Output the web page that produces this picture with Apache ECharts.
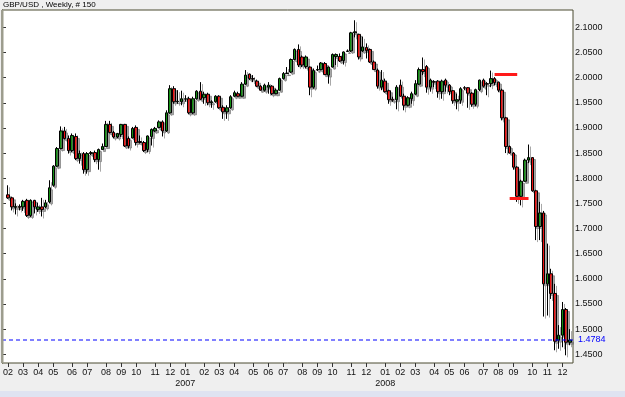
<!DOCTYPE html>
<html>
<head>
<meta charset="utf-8">
<script src="https://cdn.jsdelivr.net/npm/echarts@6/dist/echarts.min.js"></script>
<style>
html,body{margin:0;padding:0;background:#efefef;}
#main{width:625px;height:397px;}
</style>
</head>
<body>
<div id="main"></div>
<script>
// ---- data ----
const titleText = 'GBP/USD , Weekly, # 150';
const firstWeek = '2006-02-06';
const lastPrice = 1.4784;
const yTicks = [1.45, 1.50, 1.55, 1.60, 1.65, 1.70, 1.75, 1.80, 1.85, 1.90, 1.95, 2.00, 2.05, 2.10];

const opens = [
1.767,1.761,1.742,1.744,1.743,1.756,1.726,1.756,1.738,1.743,
1.743,1.753,1.786,1.824,1.859,1.894,1.879,1.855,1.883,1.839,
1.849,1.817,1.849,1.851,1.837,1.857,1.863,1.907,1.891,1.882,
1.887,1.907,1.879,1.880,1.901,1.873,1.871,1.857,1.883,1.894,
1.901,1.912,1.894,1.930,1.978,1.952,1.952,1.957,1.958,1.930,
1.958,1.973,1.960,1.967,1.950,1.952,1.963,1.941,1.932,1.940,
1.963,1.968,1.963,1.987,2.007,1.998,1.993,1.983,1.975,1.981,
1.983,1.968,1.975,1.998,2.008,2.011,2.036,2.056,2.041,2.022,
2.021,1.981,2.015,2.016,2.028,2.005,2.021,2.042,2.042,2.034,
2.052,2.053,2.089,2.086,2.053,2.060,2.056,2.031,2.015,1.981,
1.993,1.974,1.957,1.956,1.985,1.963,1.945,1.958,1.967,1.987,
2.016,2.022,1.981,1.992,1.993,1.972,1.995,1.985,1.974,1.953,
1.955,1.980,1.980,1.969,1.947,1.976,1.995,1.988,1.988,1.998,
1.991,1.975,1.920,1.863,1.850,1.822,1.764,1.794,1.836,1.841,
1.775,1.704,1.731,1.590,1.610,1.571,1.478,1.488,1.539,1.474];
const highs = [
1.786,1.763,1.750,1.748,1.757,1.759,1.758,1.757,1.751,1.761,
1.757,1.796,1.826,1.862,1.903,1.902,1.885,1.889,1.889,1.855,
1.852,1.852,1.854,1.855,1.859,1.869,1.914,1.914,1.894,1.890,
1.908,1.908,1.883,1.902,1.905,1.885,1.874,1.885,1.899,1.902,
1.915,1.915,1.935,1.985,1.983,1.975,1.974,1.965,1.962,1.962,
1.975,1.991,1.972,1.970,1.955,1.965,1.965,1.945,1.945,1.965,
1.974,1.972,1.991,2.015,2.008,2.005,1.996,1.985,1.988,1.991,
1.985,1.978,2.000,2.011,2.021,2.038,2.058,2.066,2.044,2.044,
2.022,2.018,2.024,2.031,2.031,2.022,2.048,2.048,2.048,2.052,
2.056,2.091,2.114,2.087,2.081,2.068,2.058,2.034,2.018,2.015,
1.998,1.976,1.962,1.985,1.996,1.968,1.963,1.972,1.995,2.020,
2.040,2.025,1.998,1.995,1.995,1.996,1.998,1.987,1.975,1.968,
1.981,1.983,1.981,1.971,1.978,1.996,1.998,1.991,2.014,2.001,
1.992,1.978,1.922,1.865,1.852,1.824,1.797,1.839,1.867,1.842,
1.777,1.753,1.735,1.670,1.620,1.590,1.508,1.554,1.542,1.500];
const lows = [
1.759,1.736,1.728,1.736,1.735,1.723,1.723,1.730,1.733,1.724,
1.740,1.750,1.783,1.822,1.857,1.877,1.849,1.852,1.836,1.829,
1.809,1.809,1.846,1.832,1.817,1.857,1.862,1.889,1.879,1.879,
1.882,1.862,1.859,1.879,1.865,1.869,1.852,1.852,1.865,1.892,
1.899,1.883,1.892,1.928,1.948,1.948,1.945,1.952,1.927,1.928,
1.956,1.955,1.948,1.945,1.940,1.950,1.938,1.918,1.918,1.938,
1.961,1.962,1.962,1.985,1.995,1.991,1.981,1.974,1.972,1.968,
1.965,1.967,1.974,1.996,2.007,2.009,2.034,2.021,2.021,2.018,
1.965,1.978,2.013,2.014,2.005,1.988,2.020,2.025,2.031,2.026,
2.051,2.051,2.080,2.036,2.051,2.038,2.029,2.015,1.978,1.975,
1.970,1.948,1.952,1.937,1.962,1.935,1.943,1.948,1.965,1.985,
2.005,1.970,1.972,1.981,1.960,1.958,1.972,1.965,1.948,1.937,
1.948,1.975,1.940,1.942,1.943,1.973,1.980,1.965,1.981,1.985,
1.971,1.915,1.850,1.849,1.817,1.753,1.746,1.793,1.830,1.773,
1.677,1.677,1.525,1.527,1.560,1.458,1.461,1.464,1.448,1.468];
const closes = [
1.761,1.743,1.744,1.742,1.754,1.726,1.756,1.743,1.743,1.738,
1.751,1.781,1.824,1.859,1.894,1.879,1.855,1.885,1.839,1.849,
1.817,1.849,1.851,1.837,1.857,1.863,1.907,1.891,1.882,1.889,
1.907,1.864,1.864,1.899,1.871,1.871,1.855,1.884,1.897,1.899,
1.912,1.894,1.930,1.978,1.952,1.953,1.958,1.958,1.930,1.958,
1.973,1.957,1.967,1.950,1.952,1.963,1.940,1.932,1.940,1.962,
1.970,1.963,1.987,2.005,1.998,1.997,1.983,1.975,1.985,1.985,
1.968,1.975,1.998,2.008,2.009,2.036,2.056,2.025,2.025,2.041,
1.981,2.014,2.016,2.029,2.006,2.021,2.046,2.046,2.033,2.051,
2.053,2.089,2.091,2.041,2.061,2.054,2.031,2.016,1.983,1.995,
1.972,1.956,1.955,1.981,1.963,1.945,1.960,1.968,1.988,2.016,
2.012,1.981,1.995,1.991,1.972,1.993,1.985,1.972,1.954,1.956,
1.978,1.979,1.969,1.947,1.976,1.995,1.983,1.987,1.998,1.990,
1.975,1.920,1.863,1.850,1.822,1.764,1.794,1.836,1.841,1.775,
1.704,1.731,1.590,1.610,1.571,1.476,1.488,1.539,1.474,1.4784];

// annotation lines: [startIndex, endIndex, price]
const upperMark = [129, 135, 2.006];
const lowerMark = [133, 138, 1.760];

// ---- build ----
function weekDates(start, n) {
  const out = [];
  const t0 = Date.parse(start + 'T00:00:00Z');
  for (let i = 0; i < n; i++) {
    out.push(new Date(t0 + i * 7 * 86400000).toISOString().slice(0, 10));
  }
  return out;
}
const categories = weekDates(firstWeek, opens.length);
const candleData = opens.map((o, i) => [o, closes[i], lows[i], highs[i]]);
function monthStart(index) {
  return index === 0 || categories[index].slice(5, 7) !== categories[index - 1].slice(5, 7);
}

const yMin = 1.4327, yMax = 2.1344;
const font = 'Liberation Sans';
const redLine = {color: '#ff1a1a', type: 'solid', width: 3, shadowBlur: 0, shadowColor: 'rgba(0,0,0,0)'};

const chart = echarts.init(document.getElementById('main'), null, {renderer: 'canvas'});
chart.setOption({
  backgroundColor: '#efefef',
  animation: false,
  textStyle: {fontFamily: font},
  graphic: [
    {type: 'text', left: 3, top: 1, style: {text: titleText, font: '8px "Liberation Sans Narrow", "Liberation Sans"', fill: '#000'}},
    {type: 'rect', left: 0, top: 391, shape: {width: 625, height: 6}, style: {fill: '#dfe3f1'}, silent: true},
    {type: 'rect', left: 2, top: 10, shape: {width: 1.5, height: 353}, style: {fill: '#9c9c8c'}, silent: true, z: 10}
  ],
  grid: [
    {left: 2, right: 52, top: 10, bottom: 34, show: true, backgroundColor: '#ffffff', borderColor: '#4a4a30', borderWidth: 1},
    {left: 4.8, right: 53.1, top: 10, bottom: 34, show: false}
  ],
  xAxis: [
    {type: 'value', gridIndex: 0, show: false, min: 0, max: 1},
    {
      type: 'category', gridIndex: 1, data: categories, boundaryGap: true,
      axisLine: {show: false},
      axisTick: {show: true, alignWithLabel: true, interval: (i) => monthStart(i), length: 4, lineStyle: {color: '#333'}},
      axisLabel: {
        interval: (i) => monthStart(i), margin: 4, fontSize: 9, color: '#111', lineHeight: 11, fontFamily: font,
        formatter: (v) => { const m = v.slice(5, 7); return m === '01' ? m + '\n' + v.slice(0, 4) : m; }
      },
      splitLine: {show: false}
    }
  ],
  yAxis: [
    {
      type: 'value', gridIndex: 0, position: 'right', min: yMin, max: yMax,
      axisLine: {show: true, lineStyle: {color: '#4a4a30'}},
      axisTick: {show: true, customValues: yTicks, length: 4, lineStyle: {color: '#333'}},
      axisLabel: {customValues: yTicks, formatter: (v) => v.toFixed(4), fontSize: 9, color: '#111', margin: 2, fontFamily: font},
      splitLine: {show: false}
    },
    {type: 'value', gridIndex: 1, min: yMin, max: yMax, show: false, splitLine: {show: false}}
  ],
  series: [
    {
      type: 'line', xAxisIndex: 0, yAxisIndex: 0,
      data: [[0, lastPrice], [1, lastPrice]],
      symbol: 'none', silent: true, z: 3,
      lineStyle: {color: '#0000ff', type: [4, 3], width: 1},
      endLabel: {show: true, formatter: lastPrice.toFixed(4), color: '#0000ff', fontSize: 9, distance: 5, fontFamily: font}
    },
    {
      type: 'candlestick',
      xAxisIndex: 1, yAxisIndex: 1,
      data: candleData,
      barWidth: 3,
      itemStyle: {
        color: '#118f11', color0: '#ee1111',
        borderColor: '#000', borderColor0: '#000', borderWidth: 1,
        shadowColor: 'rgba(110,110,110,0.6)', shadowOffsetX: 2, shadowOffsetY: 2, shadowBlur: 0
      },
      markLine: {
        silent: true, symbol: ['none', 'none'], animation: false,
        lineStyle: redLine,
        label: {show: false},
        data: [
          [{coord: [upperMark[0], upperMark[2]], lineStyle: redLine},
           {coord: [upperMark[1], upperMark[2]], lineStyle: redLine}],
          [{coord: [lowerMark[0], lowerMark[2]], lineStyle: redLine},
           {coord: [lowerMark[1], lowerMark[2]], lineStyle: redLine}]
        ]
      }
    }
  ]
});
</script>
</body>
</html>
